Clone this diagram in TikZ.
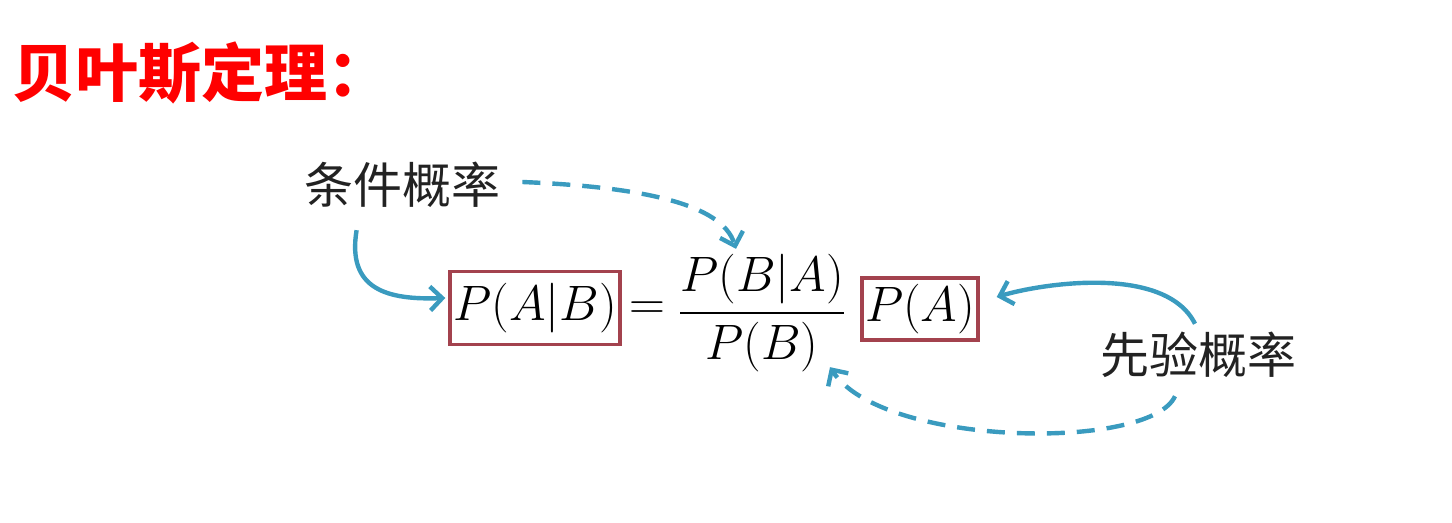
\documentclass[tikz,border=0pt]{standalone}
\usepackage{amsmath}
\usepackage{fontspec}
\newfontfamily\cjk{Noto Sans CJK SC}
\usetikzlibrary{arrows.meta,calc}
\definecolor{arr}{HTML}{3A9BBF}
\definecolor{boxc}{HTML}{A3424E}
\definecolor{txt}{HTML}{222222}
\tikzset{
  conn/.style={draw=arr, line width=2.2pt, -{Straight Barb[length=6pt,width=12pt,line width=2.2pt]}},
  dconn/.style={conn, dash pattern=on 9pt off 6pt},
  mbox/.style={draw=boxc, line width=1.7pt, inner sep=0pt, font=\fontsize{25}{30}\selectfont},
  lbl/.style={inner sep=0pt, text=txt, font=\cjk\fontsize{24.5}{28}\selectfont},
  mth/.style={inner sep=0pt, font=\fontsize{25}{30}\selectfont}
}
\begin{document}
\begin{tikzpicture}[x=0.5pt,y=-0.5pt]
\useasboundingbox (0,0) rectangle (1452,523);
\node[anchor=west, inner sep=0pt, text=red, font=\cjk\bfseries\fontsize{31.5}{34}\selectfont] (title) at (12,73) {贝叶斯定理：};
\node[lbl] (cond) at (402,185) {条件概率};
\node[lbl] (prior) at (1198,355) {先验概率};
\node[mbox, minimum width=85pt, minimum height=36.5pt] (pab) at (535,308) {$P(A|B)$};
\node[mth] (eq) at (647,311) {$=$};
\node[mth] (frac) at (762,313) {$\dfrac{P(B|A)}{P(B)}$};
\node[mbox, minimum width=58pt, minimum height=31pt] (pa) at (920,309) {$P(A)$};
\coordinate (c1) at ($(cond.south west)+(53,22)$);
\coordinate (c2) at ($(cond.east)+(22,-3)$);
\coordinate (p1) at ($(prior.north)+(-3,-8)$);
\coordinate (p2) at ($(prior.south)+(-23,18)$);
\draw[conn] (c1) .. controls ($(c1)+(-10,60)$) and ($(pab.west)+(-60,-8)$) .. ($(pab.west)+(-3,-10)$);
\draw[dconn] (c2) .. controls ($(c2)+(120,5)$) and ($(frac.north)+(-40,-50)$) .. ($(frac.north)+(-26,-5)$);
\draw[conn] (p1) .. controls ($(p1)+(-30,-60)$) and ($(pa.east)+(60,-25)$) .. ($(pa.east)+(17,-12)$);
\draw[dconn] (p2) .. controls ($(p2)+(-25,55)$) and ($(frac.south)+(120,75)$) .. ($(frac.south)+(68,-5)$);
\end{tikzpicture}
\end{document}
